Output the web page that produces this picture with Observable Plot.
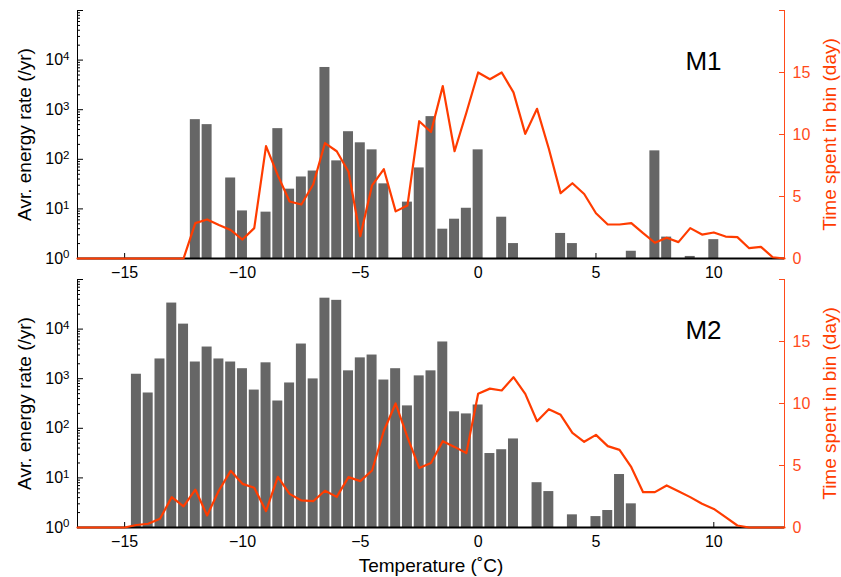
<!DOCTYPE html>
<html><head><meta charset="utf-8">
<script src="https://cdn.jsdelivr.net/npm/d3@7"></script>
<script src="https://cdn.jsdelivr.net/npm/@observablehq/plot@0.6"></script>
<style>
body{margin:0;background:#fff;}
#chart{position:relative;width:841px;height:577px;background:#fff;overflow:hidden;}
#chart svg{position:absolute;left:0;}
</style></head><body><div id="chart"></div>
<script>
// temperature grid of the "time spent" curves (°C)
const lineTemps = [-17,-16.5,-16,-15.5,-15,-14.5,-14,-13.5,-13,-12.5,-12,-11.5,-11,-10.5,-10,-9.5,-9,-8.5,-8,-7.5,-7,-6.5,-6,-5.5,-5,-4.5,-4,-3.5,-3,-2.5,-2,-1.5,-1,-0.5,0,0.5,1,1.5,2,2.5,3,3.5,4,4.5,5,5.5,6,6.5,7,7.5,8,8.5,9,9.5,10,10.5,11,11.5,12,12.5,13];

// M1
const m1BarTemps = [-12,-11.5,-10.5,-10,-9,-8.5,-8,-7.5,-7,-6.5,-6,-5.5,-5,-4.5,-4,-3,-2.5,-2,-1.5,-1,-0.5,0,1,1.5,3.5,4,6.5,7.5,8,9,10];
const m1Rate = [630,500,42,9.1,8.6,415,25,44,58,7100,93,360,215,155,32,13.7,67,725,3.9,6.2,10.3,155,6.8,2.0,3.2,2.0,1.4,148,2.7,1.1,2.4];
const m1Days = [0,0,0,0,0,0,0,0,0,0,2.85,3.15,2.7,2.3,1.53,2.45,9.06,6.7,4.6,4.35,5.97,9.3,8.65,7.0,1.8,5.9,7.2,3.8,4.27,11.07,10.2,13.9,8.65,11.75,15.0,14.46,15.0,13.4,10.05,12.07,8.85,5.27,6.07,5.2,3.65,2.74,2.74,2.85,2.04,1.27,1.67,1.32,2.45,1.93,2.1,1.77,1.72,0.83,0.94,0.1,0];

// M2
const m2BarTemps = [-14.5,-14,-13.5,-13,-12.5,-12,-11.5,-11,-10.5,-10,-9.5,-9,-8.5,-8,-7.5,-7,-6.5,-6,-5.5,-5,-4.5,-4,-3.5,-3,-2.5,-2,-1.5,-1,-0.5,0,0.5,1,1.5,2.5,3,4,5,5.5,6,6.5];
const m2Rate = [1230,515,2500,33500,12600,2170,4350,2500,2170,1590,590,2090,355,820,5000,990,42000,38000,1440,2630,3000,940,1590,283,1140,1440,5500,215,195,295,31,37,61,8.0,5.3,1.8,1.66,2.2,11.7,3.0];
const m2Days = [0,0,0,0,0,0.2,0.3,0.7,2.45,1.7,3.06,0.97,2.98,4.57,3.52,3.2,1.32,4.09,2.71,2.18,2.12,2.96,2.47,4.06,3.74,4.6,7.8,10.0,7.28,4.8,5.2,6.96,6.5,6.0,10.78,11.2,11.05,12.12,10.78,8.57,9.54,9.09,7.63,6.91,7.47,6.56,6.26,4.86,2.85,2.85,3.39,2.93,2.45,1.91,1.5,0.83,0.16,0,0,0,0];

// ticks
const xTicks = [-15,-10,-5,0,5,10];
const rateMajor = [1,10,100,1000,10000,100000];
const rateLabels = [1,10,100,1000,10000];
const rateMinor = [];
for (const p of [1,10,100,1000,10000]) for (const m of [2,3,4,5,6,7,8,9]) rateMinor.push(m*p);
const dayTicks = [0,5,10,15,20];
const dayLabels = [0,5,10,15];

const W = 841, ML = 77, MR = 57, MT = 10, PH = 248, PW = W - ML - MR;
const RED = "#ff3c00", AXRED = "#ff4a1a", GRAY = "#666666";
const FONT = '"Liberation Sans", Arial, Helvetica, sans-serif';
const powFmt = d => "10^" + Math.round(Math.log10(d));

const chart = document.getElementById("chart");

function superscripts(svg) {
  for (const t of svg.querySelectorAll("text")) {
    const s = t.textContent;
    const m = /^10\^(\d+)$/.exec(s);
    if (!m) continue;
    t.textContent = "10";
    const sup = document.createElementNS("http://www.w3.org/2000/svg", "tspan");
    sup.setAttribute("dy", "-0.45em");
    sup.setAttribute("font-size", "0.72em");
    sup.textContent = m[1];
    t.appendChild(sup);
  }
}

function panel(top, name, barTemps, rates, days, isBottom) {
  const MB = isBottom ? 50 : 32;
  const H = MT + PH + MB;
  const bars = barTemps.map((t, i) => ({x1: t - 0.25, x2: t + 0.25, v: rates[i]}));
  const line = lineTemps.map((t, i) => ({t, d: days[i]}));
  const style = {background: "transparent", fontFamily: FONT, overflow: "visible"};
  const barPlot = Plot.plot({
    width: W, height: H, marginLeft: ML, marginRight: MR, marginTop: MT, marginBottom: MB,
    style,
    x: {domain: [-17, 13]},
    y: {type: "log", domain: [1, 1e5]},
    marks: [
      Plot.tickX(xTicks, {x: d => d, stroke: "black", insetTop: PH - 5}),
      Plot.rectY(bars, {x1: "x1", x2: "x2", y1: 1, y2: "v", fill: GRAY, insetLeft: 0.9, insetRight: 0.9}),
      Plot.ruleX([-17], {y1: 1, y2: 1e5, stroke: "black"}),
      Plot.tickY(rateMajor, {y: d => d, stroke: "black", insetRight: PW - 6}),
      Plot.tickY(rateMinor, {y: d => d, stroke: "black", insetRight: PW - 3}),
      Plot.ruleY([1], {stroke: "black", strokeWidth: 2.2}),
      Plot.axisX(xTicks, {tickSize: 0, tickPadding: 8, fontSize: 16, label: null, color: "black"}),
      Plot.axisY(rateLabels, {anchor: "left", tickSize: 0, tickPadding: 8, tickFormat: powFmt, fontSize: 16, label: null, color: "black"}),
      Plot.text([name], {text: d => d, frameAnchor: "top-right", dx: -81, dy: 51, textAnchor: "middle", lineAnchor: "middle", fontSize: 26, fill: "black"}),
      Plot.text(["Avr. energy rate (/yr)"], {text: d => d, frameAnchor: "left", dx: -53, rotate: -90, textAnchor: "middle", lineAnchor: "middle", fontSize: 19, fill: "black"}),
      isBottom ? Plot.text(["Temperature (\u02daC)"], {text: d => d, frameAnchor: "bottom", dy: 38, textAnchor: "middle", lineAnchor: "middle", fontSize: 19, fill: "black"}) : null
    ]
  });
  superscripts(barPlot);
  const linePlot = Plot.plot({
    width: W, height: H, marginLeft: ML, marginRight: MR, marginTop: MT, marginBottom: MB,
    style,
    x: {domain: [-17, 13], axis: null},
    y: {domain: [0, 20], axis: null},
    marks: [
      Plot.ruleX([13], {y1: 0, y2: 20, stroke: AXRED}),
      Plot.tickY(dayTicks, {y: d => d, stroke: AXRED, insetLeft: PW - 5}),
      Plot.axisY(dayLabels, {anchor: "right", tickSize: 0, tickPadding: 8, fontSize: 16, label: null, color: AXRED}),
      Plot.text(["Time spent in bin (day)"], {text: d => d, frameAnchor: "right", dx: 45, rotate: -90, textAnchor: "middle", lineAnchor: "middle", fontSize: 19, fill: RED}),
      Plot.line(line, {x: "t", y: "d", stroke: RED, strokeWidth: 2.2})
    ]
  });
  barPlot.style.top = top + "px";
  linePlot.style.top = top + "px";
  chart.append(barPlot, linePlot);
}

panel(0, "M1", m1BarTemps, m1Rate, m1Days, false);
panel(269, "M2", m2BarTemps, m2Rate, m2Days, true);
</script>
</body></html>
